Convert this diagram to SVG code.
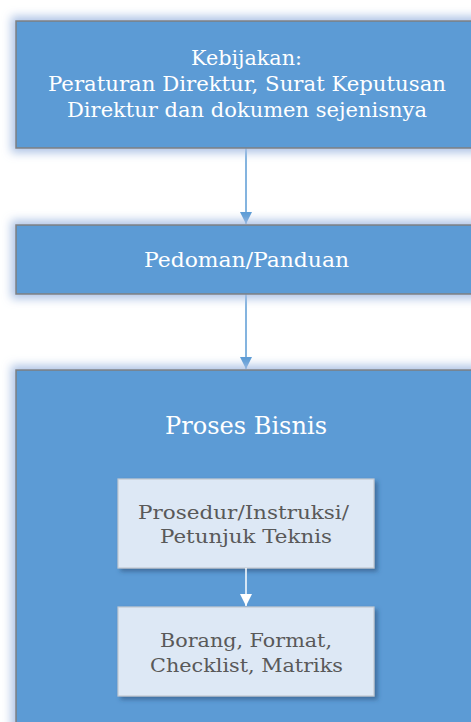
<svg xmlns="http://www.w3.org/2000/svg" width="471" height="722" viewBox="0 0 471 722">
<style>
.outer{fill:#5b9bd5;stroke:#7f7f7f;stroke-width:1.5}
.inner{fill:#dde8f5;stroke:#c3c9d0;stroke-width:1.2}
.wt{font-family:"DejaVu Serif","Liberation Serif",serif;fill:#ffffff;text-anchor:middle}
.gt{font-family:"DejaVu Serif","Liberation Serif",serif;fill:#595959;text-anchor:middle}
.con{stroke:#5b9bd5;stroke-width:1.5;fill:none}
.con2{stroke:#ffffff;stroke-width:1.5;fill:none}
</style>
<defs>
<filter id="glow" x="-10%" y="-30%" width="120%" height="160%">
<feMorphology in="SourceAlpha" operator="dilate" radius="4" result="d"/>
<feGaussianBlur in="d" stdDeviation="5" result="b"/>
<feFlood flood-color="#a9c0e4" flood-opacity="0.95"/>
<feComposite in2="b" operator="in" result="g"/>
<feMerge><feMergeNode in="g"/><feMergeNode in="SourceGraphic"/></feMerge>
</filter>
<filter id="sh" x="-10%" y="-10%" width="130%" height="130%">
<feGaussianBlur in="SourceAlpha" stdDeviation="2"/>
<feOffset dx="3" dy="3" result="o"/>
<feFlood flood-color="#2d4f78" flood-opacity="0.6"/>
<feComposite in2="o" operator="in" result="s"/>
<feMerge><feMergeNode in="s"/><feMergeNode in="SourceGraphic"/></feMerge>
</filter>
<marker id="ab" viewBox="0 0 10 10" refX="10" refY="5" markerWidth="8" markerHeight="8" orient="auto" markerUnits="strokeWidth">
<path d="M0,0 L10,5 L0,10 z" fill="#5b9bd5"/>
</marker>
<marker id="aw" viewBox="0 0 10 10" refX="10" refY="5" markerWidth="8" markerHeight="8" orient="auto" markerUnits="strokeWidth">
<path d="M0,0 L10,5 L0,10 z" fill="#ffffff"/>
</marker>
</defs>
<rect width="471" height="722" fill="#ffffff"/>
<g id="connectors">
<line class="con" x1="246" y1="148" x2="246" y2="224" marker-end="url(#ab)"/>
<line class="con" x1="246" y1="294" x2="246" y2="369" marker-end="url(#ab)"/>
</g>
<g id="kebijakan">
<rect class="outer" x="16" y="21" width="462" height="127" filter="url(#glow)"/>
<text class="wt" font-size="20" x="246.5" y="65" textLength="111" lengthAdjust="spacingAndGlyphs">Kebijakan:</text>
<text class="wt" font-size="20" x="247" y="91" textLength="398" lengthAdjust="spacingAndGlyphs">Peraturan Direktur, Surat Keputusan</text>
<text class="wt" font-size="20" x="247" y="117" textLength="360" lengthAdjust="spacingAndGlyphs">Direktur dan dokumen sejenisnya</text>
</g>
<g id="pedoman">
<rect class="outer" x="16" y="225" width="462" height="69" filter="url(#glow)"/>
<text class="wt" font-size="20" x="246.5" y="267" textLength="205" lengthAdjust="spacingAndGlyphs">Pedoman/Panduan</text>
</g>
<g id="proses">
<rect class="outer" x="16" y="370" width="462" height="360" filter="url(#glow)"/>
<text class="wt" font-size="24" x="246" y="434" textLength="162" lengthAdjust="spacingAndGlyphs">Proses Bisnis</text>
</g>
<g id="prosedur">
<rect class="inner" x="118" y="479" width="256" height="89" filter="url(#sh)"/>
<text class="gt" font-size="19" x="243.5" y="519" textLength="211" lengthAdjust="spacingAndGlyphs">Prosedur/Instruksi/</text>
<text class="gt" font-size="19" x="246" y="543" textLength="172" lengthAdjust="spacingAndGlyphs">Petunjuk Teknis</text>
</g>
<g id="borang">
<rect class="inner" x="118" y="607" width="256" height="89" filter="url(#sh)"/>
<text class="gt" font-size="19" x="246" y="647" textLength="172" lengthAdjust="spacingAndGlyphs">Borang, Format,</text>
<text class="gt" font-size="19" x="246.5" y="672" textLength="193" lengthAdjust="spacingAndGlyphs">Checklist, Matriks</text>
</g>
<g id="inner-connectors">
<line class="con2" x1="246" y1="568" x2="246" y2="606" marker-end="url(#aw)"/>
</g>
</svg>
